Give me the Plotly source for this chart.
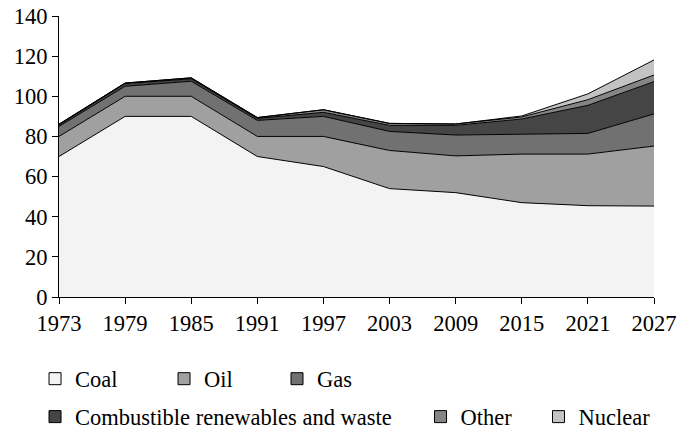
import plotly.graph_objects as go

years = [1973, 1979, 1985, 1991, 1997, 2003, 2009, 2015, 2021, 2027]
coal = [70, 90, 90, 70, 65, 54, 52, 47, 45.5, 45.3]
oil = [10, 10, 10, 10, 15, 19, 18.3, 24.2, 25.7, 29.9]
gas = [5, 5, 7.5, 8, 10, 9.5, 10.4, 10, 10.3, 16]
combustible = [0.8, 1.3, 1.2, 1, 2, 3, 4.8, 7.5, 14, 16.1]
other = [0.3, 0.3, 0.5, 0.4, 1.3, 1, 0.7, 1, 2.8, 3.3]
nuclear = [0, 0, 0, 0, 0, 0, 0, 0.5, 2.9, 7.5]

series = [
    ("Coal", coal, "#f2f3f2"),
    ("Oil", oil, "#a0a0a0"),
    ("Gas", gas, "#717171"),
    ("Combustible renewables and waste", combustible, "#454545"),
    ("Other", other, "#858585"),
    ("Nuclear", nuclear, "#c3c3c3"),
]

FONT = "Liberation Serif"
FS = 22.5
fig = go.Figure()
for name, vals, col in series:
    fig.add_trace(go.Scatter(
        x=years, y=vals, stackgroup="one", mode="lines",
        line=dict(color="black", width=1), fillcolor=col,
        name=name, showlegend=False, hoverinfo="skip"))

legend_pos = [
    (-0.0403, -0.292), (0.1765, -0.292), (0.3664, -0.292),
    (-0.0403, -0.427), (0.6076, -0.427), (0.8059, -0.427),
]
legend_keys = ["legend", "legend2", "legend3", "legend4", "legend5", "legend6"]
for (name, vals, col), key in zip(series, legend_keys):
    fig.add_trace(go.Scatter(
        x=[None], y=[None], mode="markers", name=name, legend=key,
        marker=dict(symbol="square", size=12, color=col,
                    line=dict(color="black", width=1))))

layout_legends = {}
for key, (lx, ly) in zip(legend_keys, legend_pos):
    layout_legends[key] = dict(x=lx, y=ly, xanchor="left", yanchor="middle",
                               orientation="h", bgcolor="rgba(0,0,0,0)",
                               font=dict(family=FONT, size=FS, color="black"))

fig.update_layout(
    width=678, height=430,
    margin=dict(l=59, r=24, t=16, b=133, autoexpand=False),
    paper_bgcolor="white", plot_bgcolor="white",
    font=dict(family=FONT, size=FS, color="black"),
    xaxis=dict(range=[1973, 2027], tickvals=years, ticktext=[str(y) for y in years],
               showgrid=False, zeroline=False, showline=True, linecolor="black",
               linewidth=1, ticks="outside", ticklen=6, tickcolor="black",
               automargin=False, ticklabeloverflow="allow"),
    yaxis=dict(range=[0, 140], dtick=20, showgrid=False, zeroline=False,
               showline=True, linecolor="black", linewidth=1, ticks="outside",
               ticklen=6, tickcolor="black", automargin=False,
               ticklabeloverflow="allow"),
    **layout_legends,
)

fig.write_html("out.html", config={"displayModeBar": False},
               post_script="document.body.style.margin='0px';")
